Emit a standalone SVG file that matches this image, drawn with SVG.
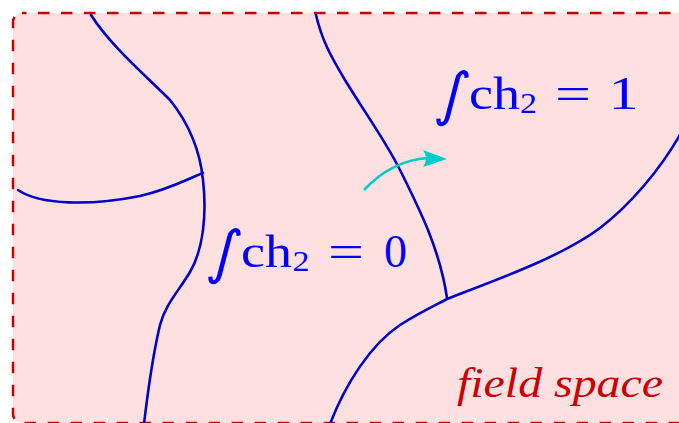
<svg xmlns="http://www.w3.org/2000/svg" width="679" height="423" viewBox="0 0 679 423">
<style>
.wall{fill:none;stroke:#0000cc;stroke-width:2.6;stroke-linecap:round}
.math{font-family:"Liberation Serif",serif;fill:#0000ff}
.int{font-family:"DejaVu Sans",sans-serif;fill:#0000ff;font-size:58px}
.lbl{font-family:"Liberation Serif",serif;font-style:italic;fill:#cc0000}
</style>
<rect width="679" height="423" fill="#ffffff"/>
<g id="field-space">
<rect x="13" y="13" width="720" height="410" rx="9" fill="#ffe0e0" stroke="#cc0000" stroke-width="2.5" stroke-dasharray="11.5 11.5" stroke-dashoffset="7"/>
<text class="lbl" x="457" y="397" font-size="42" textLength="206" lengthAdjust="spacingAndGlyphs">field space</text>
</g>
<g id="connectors">
<path class="wall" d="M91,15 C110,45 145,75 170,100 C190,125 200,150 203,180 C207,215 203,250 190,272 C178,292 165,305 160,325 C154,350 148,390 144,424"/>
<path class="wall" d="M18,190 C40,205 90,206 140,196 C170,189 185,180 203,173"/>
<path class="wall" d="M316,15 C322,40 330,55 345,80 C365,113 385,140 400,170 C420,210 440,250 447,298"/>
<path class="wall" d="M330,424 C345,385 370,345 400,325 C420,312 440,303 447,299 C490,282 560,258 600,228 C630,205 660,170 681,133"/>
<path d="M364,190 C378,175 398,160 428,158" fill="none" stroke="#00cccc" stroke-width="2.6"/>
<path d="M447,159 L423,150 Q429,158 423,167 Z" fill="#00cccc"/>
</g>
<g id="label-1">
<text class="int" transform="translate(434,114) skewX(-12)">∫</text>
<text class="math" x="469" y="108.5" font-size="46" textLength="51" lengthAdjust="spacingAndGlyphs">ch</text>
<text class="math" x="520" y="112.5" font-size="29" textLength="17" lengthAdjust="spacingAndGlyphs">2</text>
<text class="math" x="555" y="108.5" font-size="46" textLength="36" lengthAdjust="spacingAndGlyphs">=</text>
<text class="math" x="608.5" y="108.5" font-size="46" textLength="30" lengthAdjust="spacingAndGlyphs">1</text>
</g>
<g id="label-0">
<text class="int" transform="translate(206,272) skewX(-12)">∫</text>
<text class="math" x="241" y="267" font-size="46" textLength="51" lengthAdjust="spacingAndGlyphs">ch</text>
<text class="math" x="292.5" y="270.5" font-size="29" textLength="17" lengthAdjust="spacingAndGlyphs">2</text>
<text class="math" x="328" y="267" font-size="46" textLength="36" lengthAdjust="spacingAndGlyphs">=</text>
<text class="math" x="384" y="267" font-size="46">0</text>
</g>
</svg>
